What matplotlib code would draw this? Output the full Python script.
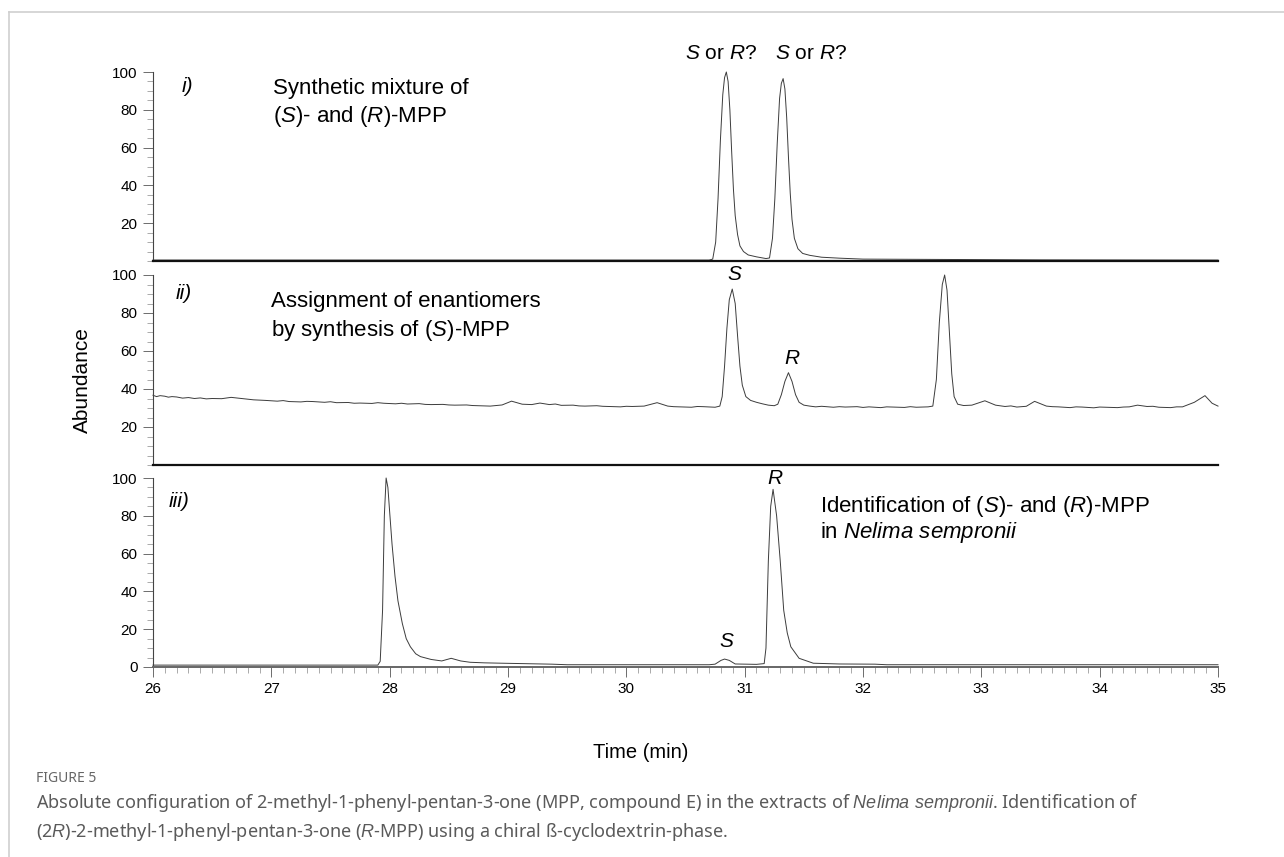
import matplotlib
matplotlib.use("Agg")
import matplotlib.pyplot as plt
from matplotlib.lines import Line2D
from matplotlib.ticker import MultipleLocator

plt.rcParams["font.family"] = ["Liberation Sans", "DejaVu Sans"]
plt.rcParams["mathtext.fontset"] = "custom"
plt.rcParams["mathtext.rm"] = "Liberation Sans"
plt.rcParams["mathtext.it"] = "Liberation Sans:italic"

# panel i) synthetic racemic mixture
time_i = [26.0, 27.5, 29.0, 30.70, 30.73, 30.755, 30.775, 30.795, 30.815, 30.83, 30.845, 30.86,
          30.875, 30.89, 30.905, 30.92, 30.94, 30.96, 30.99, 31.03, 31.10, 31.18, 31.21, 31.235,
          31.255, 31.275, 31.295, 31.31, 31.325, 31.34, 31.355, 31.37, 31.385, 31.40, 31.42,
          31.45, 31.49, 31.55, 31.65, 31.80, 32.0, 33.5, 35.0]
abund_i = [0.5, 0.5, 0.5, 0.5, 1.0, 10, 33, 64, 88, 97, 100, 95,
           80, 58, 38, 24, 14, 8, 5, 3.2, 2.2, 1.3, 1.6, 12,
           33, 62, 86, 94, 96.5, 91, 76, 55, 36, 22, 12,
           6.5, 4, 3, 2, 1.5, 1.0, 0.6, 0.5]

# panel ii) synthesis of (S)-MPP
time_ii = [26.0, 26.03, 26.06, 26.1, 26.13, 26.16, 26.2, 26.25, 26.3, 26.35, 26.4, 26.45, 26.5,
           26.58, 26.66, 26.75, 26.85, 26.95, 27.05, 27.1, 27.15, 27.25, 27.3, 27.35, 27.45,
           27.5, 27.55, 27.65, 27.7, 27.75, 27.85, 27.9, 27.95, 28.05, 28.1, 28.15, 28.25,
           28.3, 28.35, 28.45, 28.5, 28.55, 28.65, 28.7, 28.75, 28.85, 28.95, 29.03, 29.12,
           29.2, 29.27, 29.35, 29.4, 29.45, 29.55, 29.6, 29.65, 29.75, 29.8, 29.85, 29.95,
           30.0, 30.05, 30.15, 30.26, 30.35, 30.4, 30.45, 30.55, 30.6, 30.65, 30.75, 30.79,
           30.81, 30.83, 30.85, 30.87, 30.895, 30.92, 30.94, 30.96, 30.98, 31.01, 31.05, 31.10,
           31.15, 31.20, 31.25, 31.28, 31.31, 31.34, 31.37, 31.40, 31.43, 31.46, 31.50, 31.55,
           31.6, 31.65, 31.75, 31.8, 31.85, 31.95, 32.0, 32.05, 32.15, 32.2, 32.25, 32.35,
           32.4, 32.45, 32.55, 32.59, 32.62, 32.645, 32.67, 32.69, 32.71, 32.73, 32.75, 32.77,
           32.80, 32.85, 32.92, 33.03, 33.12, 33.2, 33.25, 33.3, 33.38, 33.45, 33.55, 33.6,
           33.65, 33.75, 33.8, 33.85, 33.95, 34.0, 34.05, 34.15, 34.2, 34.25, 34.32, 34.4,
           34.45, 34.5, 34.6, 34.65, 34.7, 34.8, 34.89, 34.95, 35.0]
abund_ii = [36.7, 36.0, 36.5, 36.2, 35.7, 36.0, 35.8, 35.2, 35.5, 35.0, 35.3, 34.8, 35.0,
            34.9, 35.6, 35.0, 34.3, 34.0, 33.6, 33.9, 33.4, 33.2, 33.5, 33.4, 33.0,
            33.3, 32.8, 32.9, 32.5, 32.6, 32.4, 32.8, 32.5, 32.2, 32.5, 32.1, 32.3,
            31.9, 31.8, 31.9, 31.6, 31.5, 31.6, 31.3, 31.2, 31.0, 31.6, 33.6, 32.0,
            31.8, 32.6, 31.8, 32.1, 31.4, 31.5, 31.1, 31.0, 31.2, 30.9, 30.8, 30.6,
            30.9, 30.8, 31.0, 32.8, 31.0, 30.7, 30.6, 30.4, 30.8, 30.7, 30.4, 31.0,
            36, 52, 72, 87, 92.6, 85, 68, 52, 42, 36, 34, 33,
            32.2, 31.5, 31.2, 32, 37, 44, 48.6, 44, 37, 33, 31.5, 31.0,
            30.6, 30.9, 30.4, 30.7, 30.5, 30.7, 30.3, 30.6, 30.2, 30.6, 30.5, 30.3,
            30.7, 30.4, 30.6, 31, 45, 75, 95, 100, 92, 70, 48, 36,
            32, 31.3, 31.5, 33.8, 31.5, 30.8, 31.1, 30.5, 30.9, 33.5, 31.0, 30.7,
            30.6, 30.2, 30.6, 30.5, 30.1, 30.5, 30.4, 30.2, 30.5, 30.6, 31.5, 30.8,
            30.9, 30.4, 30.2, 30.6, 30.6, 33.0, 36.5, 32.5, 31.0]

# panel iii) extract of Nelima sempronii
time_iii = [26.0, 27.0, 27.9, 27.92, 27.94, 27.955, 27.97, 27.985, 28.0, 28.02, 28.045, 28.07,
            28.107, 28.14, 28.175, 28.22, 28.26, 28.35, 28.44, 28.52, 28.6, 28.68, 28.8, 28.95,
            29.37, 29.5, 30.7, 30.75, 30.8, 30.83, 30.87, 30.92, 31.1, 31.165, 31.18, 31.20,
            31.22, 31.24, 31.27, 31.30, 31.33, 31.36, 31.39, 31.46, 31.58, 31.8, 32.1, 32.2,
            35.0]
abund_iii = [1.0, 1.0, 1.0, 3, 30, 80, 100, 95, 82, 65, 48, 35,
             23, 15, 10.7, 7, 5.5, 4, 3.2, 4.6, 3.2, 2.5, 2.2, 2.0,
             1.5, 1.2, 1.2, 1.5, 3.5, 4.2, 3.5, 1.6, 1.4, 1.8, 10, 56,
             85, 94, 80, 56.6, 30, 18, 10.7, 4.6, 2.0, 1.6, 1.5, 1.2,
             1.2]

x_ticks = [26, 27, 28, 29, 30, 31, 32, 33, 34, 35]
y_ticks_top = [20, 40, 60, 80, 100]
y_ticks_bottom = [0, 20, 40, 60, 80, 100]

trace_color = "#3c3c3c"
fig = plt.figure(figsize=(12.84, 8.57), dpi=100)

left, width = 153 / 1284, 1065 / 1284
panel_px = [(72, 261), (275, 465), (478, 667)]
axes = []
for top, bottom in panel_px:
    ax = fig.add_axes([left, 1 - bottom / 857, width, (bottom - top) / 857])
    axes.append(ax)

traces = [(time_i, abund_i), (time_ii, abund_ii), (time_iii, abund_iii)]
for k, (ax, (t, a)) in enumerate(zip(axes, traces)):
    ax.plot(t, a, color=trace_color, lw=0.7, clip_on=False)
    ax.set_xlim(26, 35)
    ax.set_ylim(0, 100)
    for side in ("top", "right"):
        ax.spines[side].set_visible(False)
    ax.spines["left"].set_color("#444444")
    ax.spines["left"].set_linewidth(0.8)
    ax.yaxis.set_minor_locator(MultipleLocator(5))
    ax.tick_params(axis="y", which="major", direction="out", length=7, width=0.6,
                   color="#555555", labelsize=11, pad=4)
    ax.tick_params(axis="y", which="minor", direction="out", length=4, width=0.5,
                   color="#888888")
    if k < 2:
        ax.set_yticks(y_ticks_top)
        ax.set_xticks([])
        ax.spines["bottom"].set_color("#111111")
        ax.spines["bottom"].set_linewidth(1.6)
    else:
        ax.set_yticks(y_ticks_bottom)
        ax.set_xticks(x_ticks)
        ax.xaxis.set_minor_locator(MultipleLocator(0.1))
        ax.spines["bottom"].set_color("#666666")
        ax.spines["bottom"].set_linewidth(1.4)
        ax.tick_params(axis="x", which="major", direction="out", length=7, width=0.6,
                       color="#555555", labelsize=11, pad=4)
        ax.tick_params(axis="x", which="minor", direction="out", length=4, width=0.5,
                       color="#888888")

ax1, ax2, ax3 = axes
big = 16
mid = 15

# panel i labels
ax1.text(26.24, 92.5, "i)", fontsize=mid, style="italic", va="center", ha="left")
ax1.text(27.01, 91.5, "Synthetic mixture of", fontsize=big, va="center", ha="left")
ax1.text(27.01, 76.5, r"($\mathit{S}$)- and ($\mathit{R}$)-MPP", fontsize=big, va="center", ha="left")
ax1.text(30.80, 110, r"$\mathit{S}$ or $\mathit{R}$?", fontsize=mid, va="center", ha="center", clip_on=False)
ax1.text(31.56, 110, r"$\mathit{S}$ or $\mathit{R}$?", fontsize=mid, va="center", ha="center", clip_on=False)

# panel ii labels
ax2.text(26.19, 90.5, "ii)", fontsize=mid, style="italic", va="center", ha="left")
ax2.text(27.0, 86, "Assignment of enantiomers", fontsize=big, va="center", ha="left")
ax2.text(27.0, 71, r"by synthesis of ($\mathit{S}$)-MPP", fontsize=big, va="center", ha="left")
ax2.text(30.92, 100, r"$\mathit{S}$", fontsize=mid, va="center", ha="center", clip_on=False)
ax2.text(31.40, 56.3, r"$\mathit{R}$", fontsize=mid, va="center", ha="center")

# panel iii labels
ax3.text(26.135, 87.5, "iii)", fontsize=mid, style="italic", va="center", ha="left")
ax3.text(31.64, 84.8, r"Identification of ($\mathit{S}$)- and ($\mathit{R}$)-MPP", fontsize=big,
         va="center", ha="left")
ax3.text(31.64, 71.4, r"in $\mathit{Nelima\ sempronii}$", fontsize=big, va="center", ha="left")
ax3.text(31.26, 100, r"$\mathit{R}$", fontsize=mid, va="center", ha="center", clip_on=False)
ax3.text(30.85, 13.4, r"$\mathit{S}$", fontsize=mid, va="center", ha="center")

fig.text(82 / 1284, 1 - 380 / 857, "Abundance", rotation=90, fontsize=15, va="center", ha="center")
fig.text(641 / 1284, 1 - 753 / 857, "Time (min)", fontsize=14.5, va="center", ha="center")

# page frame and caption
fig.add_artist(Line2D([9 / 1284, 9 / 1284], [0, 1 - 12 / 857], color="#cfcfcf", lw=1.2))
fig.add_artist(Line2D([9 / 1284, 1], [1 - 12 / 857, 1 - 12 / 857], color="#cfcfcf", lw=1.2))

cap_font = ["Noto Sans", "DejaVu Sans"]
cap_x = 36 / 1284
fig.text(cap_x, 1 - 779 / 857, "FIGURE 5", fontsize=10, fontweight="bold", color="#666666",
         family=cap_font, va="center", ha="left")
fig.text(cap_x, 1 - 803 / 857,
         r"Absolute configuration of 2-methyl-1-phenyl-pentan-3-one (MPP, compound E) in the extracts of "
         r"$\mathit{Nelima\ sempronii}$. Identification of",
         fontsize=13, fontweight="light", color="#5a5a5a", family=cap_font, va="center", ha="left")
fig.text(cap_x, 1 - 832 / 857,
         r"(2$\mathit{R}$)-2-methyl-1-phenyl-pentan-3-one ($\mathit{R}$-MPP) using a chiral ß-cyclodextrin-phase.",
         fontsize=13, fontweight="light", color="#5a5a5a", family=cap_font, va="center", ha="left")

fig.savefig("out.png", dpi=100)
